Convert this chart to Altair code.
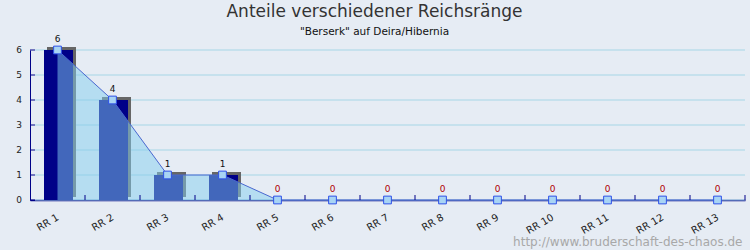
import altair as alt
import pandas as pd

categories = ["RR 1", "RR 2", "RR 3", "RR 4", "RR 5", "RR 6", "RR 7",
              "RR 8", "RR 9", "RR 10", "RR 11", "RR 12", "RR 13"]
values = [6, 4, 1, 1, 0, 0, 0, 0, 0, 0, 0, 0, 0]
y_ticks = [0, 1, 2, 3, 4, 5, 6]

df = pd.DataFrame({"cat": categories, "val": values})
df_ticks = pd.DataFrame({"val": y_ticks})

NAVY = "#000088"
BG = "#e6ecf4"

x_scale = alt.Scale(domain=categories, paddingInner=0, paddingOuter=0)
x_axis = alt.Axis(title="http://www.bruderschaft-des-chaos.de", titleX=712, titleY=45,
                  titleAlign="right", titleBaseline="alphabetic", titleColor="#a8a8a8",
                  titleFont="DejaVu Sans", titleFontSize=12, titleFontWeight="normal",
                  labelAngle=-30, labelAlign="right", labelBaseline="top",
                  labelFont="DejaVu Sans", labelFontSize=10, labelColor="#222222",
                  labelPadding=12, labelOffset=-2, ticks=False, domainColor=NAVY, domainWidth=1.5,
                  grid=False, labelOverlap=False)
y_scale = alt.Scale(domain=[0, 6], nice=False)
y_axis = alt.Axis(title=None, ticks=False, labels=False, grid=False,
                  domainColor=NAVY, domainWidth=1)

xs = alt.X("cat:N", sort=categories, scale=x_scale, axis=x_axis)
xs_edge = alt.X("cat:N", sort=categories, scale=x_scale, axis=x_axis, bandPosition=1)
ys = alt.Y("val:Q", scale=y_scale, axis=y_axis)

base = alt.Chart(df)
tbase = alt.Chart(df_ticks)

grid = tbase.mark_rule(color="#a6d6e6", strokeWidth=1).encode(
    y=ys, x=alt.value(5), x2=alt.value(715))
ylabels = tbase.mark_text(align="right", baseline="middle", font="DejaVu Sans", fontSize=9,
                          color="#222222").encode(y=ys, x=alt.value(-8), text="val:Q")

bars_df = base.transform_filter("datum.val > 0")

shadow = bars_df.mark_bar(size=29, xOffset=4, yOffset=-3, color="#666666").encode(x=xs, y=ys)
bars = bars_df.mark_bar(size=29, xOffset=1, color=NAVY).encode(x=xs, y=ys)
area = base.mark_area(color="#84cdee", opacity=0.5).encode(x=xs, y=ys)
line = base.mark_line(color="#4a68d0", strokeWidth=1).encode(x=xs, y=ys)
pts = base.mark_point(shape="square", size=60, filled=True, fill="#a8d4f4", stroke="#2e50e8",
                      strokeWidth=1, opacity=1).encode(x=xs, y=ys)
labels = base.mark_text(baseline="bottom", dy=-6, font="DejaVu Sans", fontSize=9).encode(
    x=xs, y=ys, text="val:Q",
    color=alt.condition("datum.val > 0", alt.value("#111111"), alt.value("#b00000")))

xticks = base.mark_rule(color=NAVY, strokeWidth=1).encode(
    x=xs_edge, y=alt.value(145), y2=alt.value(150))
yticks = tbase.mark_rule(color=NAVY, strokeWidth=1).encode(
    y=ys, x=alt.value(0), x2=alt.value(5))

chart = alt.layer(grid, ylabels, shadow, bars, area, line, xticks, yticks, pts, labels).properties(
    width=715, height=150,
    title=alt.TitleParams(text="Anteile verschiedener Reichsränge",
                          subtitle='"Berserk" auf Deira/Hibernia',
                          anchor="middle", frame="group", dx=-13, offset=-3,
                          font="DejaVu Sans", fontSize=17, fontWeight="normal", color="#333333",
                          subtitleFont="DejaVu Sans", subtitleFontSize=10.5,
                          subtitleColor="#111111", subtitlePadding=6),
    autosize=alt.AutoSizeParams(type="none"),
    padding={"left": 30, "top": 50, "right": 5, "bottom": 50},
    background=BG,
).configure_view(stroke=None)

chart.save("out.html", embed_options={"renderer": "svg", "actions": False})
